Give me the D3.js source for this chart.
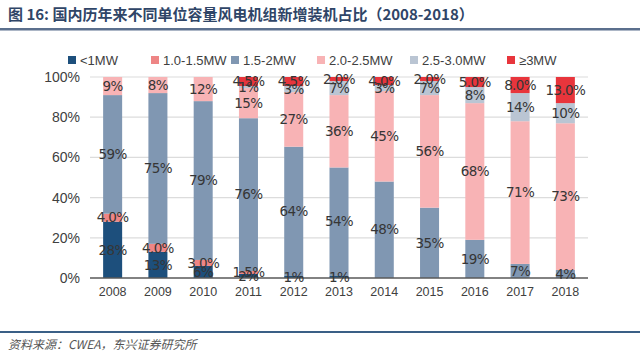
<!DOCTYPE html>
<html>
<head>
<meta charset="utf-8">
<script src="https://cdn.jsdelivr.net/npm/d3@7"></script>
<style>
  body { margin: 0; background: #ffffff; }
  svg { display: block; }
</style>
</head>
<body>
<script>
var width = 640;
var height = 362;

var years = ["2008", "2009", "2010", "2011", "2012", "2013", "2014", "2015", "2016", "2017", "2018"];
var seriesNames = ["<1MW", "1.0-1.5MW", "1.5-2MW", "2.0-2.5MW", "2.5-3.0MW", "\u22653MW"];
var seriesColors = ["#1d4f7c", "#ee8585", "#8097b2", "#f8b3b5", "#bac5d3", "#e8353c"];
// decimals shown in each series' labels
var seriesDecimals = [0, 1, 0, 0, 0, 1];

var below1 = [28, 13, 6, 2, 1, 1, 0, 0, 0, 0, 0];
var from10to15 = [4, 4, 3, 1.5, 0, 0, 0, 0, 0, 0, 0];
var from15to2 = [59, 75, 79, 76, 64, 54, 48, 35, 19, 7, 4];
var from20to25 = [9, 8, 12, 15, 27, 36, 45, 56, 68, 71, 73];
var from25to30 = [0, 0, 0, 1, 3, 7, 3, 7, 8, 14, 10];
var above3 = [0, 0, 0, 4.5, 4.5, 2, 4, 2, 5, 8, 13];
var yTicks = [0, 0.2, 0.4, 0.6, 0.8, 1];

var seriesValues = [below1, from10to15, from15to2, from20to25, from25to30, above3];
var rows = years.map(function (y, i) {
  var r = { year: y };
  seriesNames.forEach(function (s, k) {
    r[s] = seriesValues[k][i];
  });
  return r;
});

var svg = d3.select("body")
  .append("svg")
  .attr("width", width)
  .attr("height", height);

// title
svg.append("text")
  .attr("x", 8)
  .attr("y", 20)
  .attr("font-family", "'Noto Sans CJK SC', sans-serif")
  .attr("font-weight", "bold")
  .attr("font-size", 15)
  .attr("fill", "#2f4567")
  .text("图 16: 国内历年来不同单位容量风电机组新增装机占比（2008-2018）");

svg.append("rect")
  .attr("x", 0)
  .attr("y", 28)
  .attr("width", width)
  .attr("height", 2.5)
  .attr("fill", "#5b6f8d");

var x = d3.scaleBand()
  .domain(years)
  .range([90, 588])
  .paddingInner(0.58)
  .paddingOuter(0.29);

var y = d3.scaleLinear()
  .domain([0, 1])
  .range([278, 77]);

// gridlines
svg.append("g")
  .selectAll("line")
  .data(yTicks.slice(1))
  .enter()
  .append("line")
  .attr("x1", 90)
  .attr("x2", 588)
  .attr("y1", function (d) { return y(d); })
  .attr("y2", function (d) { return y(d); })
  .attr("stroke", "#dcdcdc")
  .attr("stroke-width", 1.2);

var yAxis = svg.append("g")
  .attr("transform", "translate(82,0)")
  .call(d3.axisLeft(y).tickValues(yTicks).tickFormat(d3.format(".0%")).tickSize(0).tickPadding(2));
yAxis.select(".domain").remove();
yAxis.selectAll("text")
  .attr("font-family", "'Liberation Sans', Arial, sans-serif")
  .attr("font-size", 14)
  .attr("fill", "#404040");

var stack = d3.stack()
  .keys(seriesNames)
  .offset(d3.stackOffsetExpand);
var layers = stack(rows);

var groups = svg.append("g")
  .selectAll("g")
  .data(layers)
  .enter()
  .append("g")
  .attr("fill", function (d, i) { return seriesColors[i]; });

groups.selectAll("rect")
  .data(function (d) { return d; })
  .enter()
  .append("rect")
  .attr("x", function (d) { return x(d.data.year); })
  .attr("width", x.bandwidth())
  .attr("y", function (d) { return y(d[1]); })
  .attr("height", function (d) { return y(d[0]) - y(d[1]); });

// x axis
var xAxis = svg.append("g")
  .attr("transform", "translate(0,278)")
  .call(d3.axisBottom(x).tickSize(0).tickPadding(9));
xAxis.select(".domain")
  .attr("stroke", "#595959")
  .attr("stroke-width", 1.6)
  .attr("d", "M90,0H588");
xAxis.selectAll("text")
  .attr("font-family", "'Liberation Sans', Arial, sans-serif")
  .attr("font-size", 12.5)
  .attr("fill", "#404040");

// value labels
layers.forEach(function (layer, k) {
  svg.append("g")
    .selectAll("text")
    .data(layer.filter(function (d) { return d.data[layer.key] > 0; }))
    .enter()
    .append("text")
    .attr("x", function (d) { return x(d.data.year) + x.bandwidth() / 2; })
    .attr("y", function (d) { return y((d[0] + d[1]) / 2); })
    .attr("dy", "0.35em")
    .attr("text-anchor", "middle")
    .attr("font-family", "'DejaVu Sans', sans-serif")
    .attr("font-size", 13.5)
    .attr("letter-spacing", -0.6)
    .attr("fill", "#363636")
    .text(function (d) { return d.data[layer.key].toFixed(seriesDecimals[k]) + "%"; });
});

// legend
var legendX = [68, 151, 231, 317, 410, 507];
var legend = svg.append("g")
  .selectAll("g")
  .data(seriesNames)
  .enter()
  .append("g")
  .attr("transform", function (d, i) { return "translate(" + legendX[i] + ",60)"; });
legend.append("rect")
  .attr("x", 0)
  .attr("y", -4)
  .attr("width", 8)
  .attr("height", 8)
  .attr("fill", function (d, i) { return seriesColors[i]; });
legend.append("text")
  .attr("x", 12)
  .attr("y", 0)
  .attr("dy", "0.35em")
  .attr("font-family", "'Liberation Sans', Arial, sans-serif")
  .attr("font-size", 13)
  .attr("fill", "#404040")
  .text(function (d) { return d; });

// footer
svg.append("rect")
  .attr("x", 0)
  .attr("y", 331)
  .attr("width", width)
  .attr("height", 2)
  .attr("fill", "#3a5f86");

svg.append("text")
  .attr("x", 8)
  .attr("y", 349)
  .attr("font-family", "'Noto Sans CJK SC', sans-serif")
  .attr("font-style", "italic")
  .attr("font-size", 12)
  .attr("fill", "#555555")
  .text("资料来源：CWEA，东兴证券研究所");
</script>
</body>
</html>
